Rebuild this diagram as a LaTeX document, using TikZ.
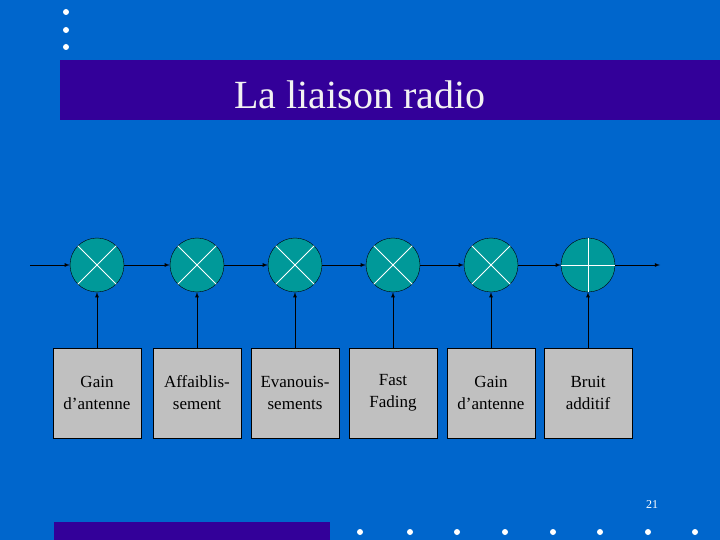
\documentclass[tikz,border=0pt]{standalone}
\usepackage{fontspec}
\setmainfont{Liberation Serif}
\usetikzlibrary{arrows}
\usetikzlibrary{positioning}
\definecolor{fondbleu}{RGB}{0, 102, 204}
\definecolor{violet}{RGB}{51, 0, 153}
\definecolor{sarcelle}{RGB}{0, 153, 153}
\definecolor{gris}{RGB}{192, 192, 192}
\begin{document}
\begin{tikzpicture}[x=1pt, y=-1pt,
    mixer/.style={circle, draw=black, fill=sarcelle, minimum size=54pt, inner sep=0pt},
    bloc/.style={rectangle, draw=black, fill=gris, minimum width=88pt, minimum height=90pt,
                 align=center, font=\fontsize{17}{22}\selectfont},
    fleche/.style={-latex, thick}]
            % Background
            \fill[fondbleu] (0, 0) rectangle (720, 540);
            \fill[violet]   (60, 60) rectangle (720, 120);
            \fill[violet]   (54, 522) rectangle (330, 540);
            \node[text=white!90!gray, font=\fontsize{40}{44}\selectfont] (titre) at (360, 95) {La liaison radio};
            \foreach \y in {12, 30, 47}
                \fill[white] (66, \y) circle (3);
            \foreach \x in {360, 410, 457, 505, 553, 600, 648, 695}
                \fill[white] (\x, 532) circle (3);
            \node[text=white, font=\fontsize{12}{14}\selectfont] (page) at (652, 505) {21};
            % Mixers and boxes
            \foreach \i/\x/\t in {1/97/{Gain\\d'antenne}, 2/197/{Affaiblis-\\sement},
                                  3/295/{Evanouis-\\sements}, 4/393/{Fast\\Fading},
                                  5/491/{Gain\\d'antenne}, 6/588/{Bruit\\additif}} {
                \node[mixer] (m\i) at (\x, 265) {};
                \node[bloc]  (b\i) at (\x, 393) {\t};
                \draw[fleche] (b\i.north) -- (m\i.south);
            }
            \foreach \i in {1,...,5} {
                \draw[white, thick] (m\i.north west) -- (m\i.south east);
                \draw[white, thick] (m\i.north east) -- (m\i.south west);
            }
            \draw[white, thick] (m6.north) -- (m6.south);
            \draw[white, thick] (m6.west) -- (m6.east);
            % Signal path
            \coordinate (entree) at (30, 265);
            \coordinate (sortie) at (660, 265);
            \draw[fleche] (entree) -- (m1.west);
            \foreach \i/\j in {1/2, 2/3, 3/4, 4/5, 5/6}
                \draw[fleche] (m\i.east) -- (m\j.west);
            \draw[fleche] (m6.east) -- (sortie);
\end{tikzpicture}
\end{document}
